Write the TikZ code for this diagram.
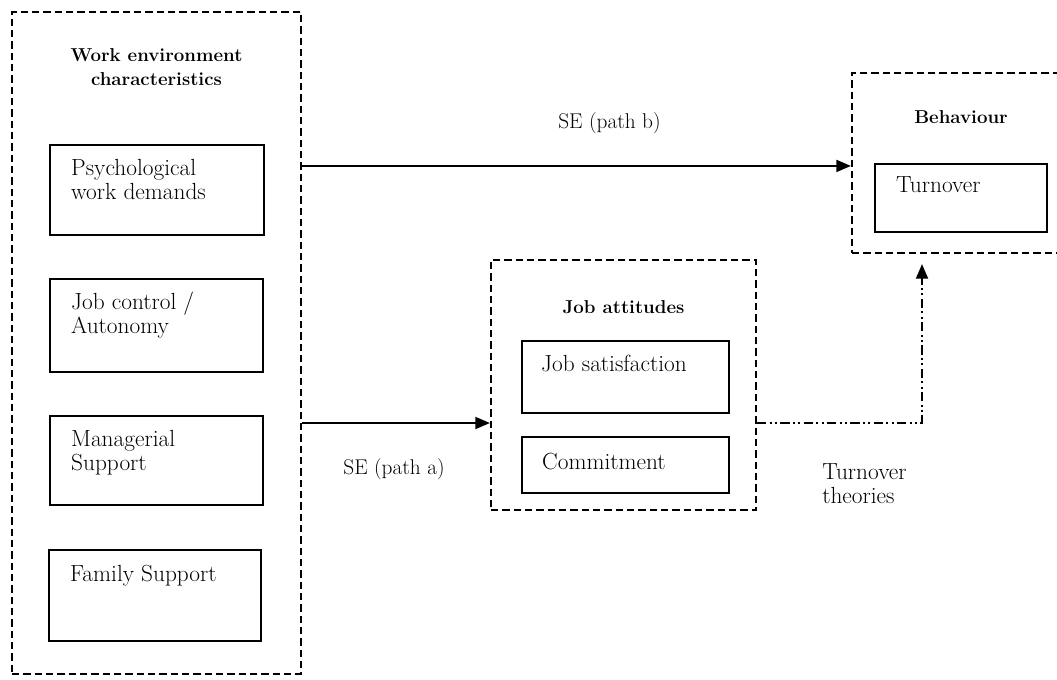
\documentclass[tikz,border=0pt]{standalone}
\usetikzlibrary{arrows.meta,calc}
\newdimen\pxu \pxu=0.75pt
\tikzset{
  groupbox/.style={draw, line width=1.6pt, dash pattern=on 5.5pt off 3pt,
    inner sep=0pt, minimum width=#1},
  itembox/.style={draw, line width=1.6pt, inner sep=0pt},
  itemtext/.style={anchor=north west, inner sep=0pt, align=left,
    font=\fontsize{17.5}{18}\selectfont},
  grouptitle/.style={anchor=north, inner sep=0pt, align=center,
    font=\fontsize{14}{18}\selectfont\bfseries},
  pathlabel/.style={inner sep=0pt, font=\fontsize{16}{18}\selectfont},
  arr/.style={line width=1.5pt, -{Triangle[length=11pt,width=9pt]}},
  dashdotdot/.style={line width=1.5pt,
    dash pattern=on 7pt off 2.5pt on 1.5pt off 2.5pt on 1.5pt off 2.5pt,
    -{Triangle[length=11pt,width=9pt]}, shorten >=7.5pt}
}
\begin{document}
\begin{tikzpicture}[x=0.75pt, y=-0.75pt]
\useasboundingbox (0,0) rectangle (1057,679);
\clip (0,0) rectangle (1057,679);

% work environment characteristics
\node[groupbox=289\pxu, minimum height=662\pxu] (wec) at (156.5,343) {};
\node[grouptitle] (wect) at (156.5,48) {Work environment\\characteristics};
\node[itembox, minimum width=214\pxu, minimum height=90\pxu] (psy) at (157,190) {};
\node[itembox, minimum width=213\pxu, minimum height=93\pxu] (jc) at (156.5,325.5) {};
\node[itembox, minimum width=213\pxu, minimum height=89\pxu] (man) at (156.5,460.5) {};
\node[itembox, minimum width=212\pxu, minimum height=91\pxu] (fam) at (155,595.5) {};
\node[itemtext] (psyt) at ([xshift=22\pxu, yshift=-15\pxu]psy.north west) {Psychological\\work demands};
\node[itemtext] (jct) at ([xshift=22\pxu, yshift=-14\pxu]jc.north west) {Job control /\\Autonomy};
\node[itemtext] (mant) at ([xshift=22\pxu, yshift=-15\pxu]man.north west) {Managerial\\Support};
\node[itemtext] (famt) at ([xshift=22\pxu, yshift=-16\pxu]fam.north west) {Family Support};

% job attitudes
\node[groupbox=265\pxu, minimum height=250\pxu] (att) at (623.5,385) {};
\node[grouptitle] (attt) at (623.5,300) {Job attitudes};
\node[itembox, minimum width=207\pxu, minimum height=72\pxu] (jsat) at (625.5,377) {};
\node[itembox, minimum width=207\pxu, minimum height=56\pxu] (com) at (625.5,465) {};
\node[itemtext] (jsatt) at ([xshift=20\pxu, yshift=-15\pxu]jsat.north west) {Job satisfaction};
\node[itemtext] (comt) at ([xshift=21\pxu, yshift=-17\pxu]com.north west) {Commitment};

% behaviour
\node[groupbox=218\pxu, minimum height=180\pxu] (beh) at (961,163) {};
\node[grouptitle] (beht) at (961,110) {Behaviour};
\node[itembox, minimum width=172\pxu, minimum height=68\pxu] (turn) at (961,198) {};
\node[itemtext] (turnt) at ([xshift=22\pxu, yshift=-13\pxu]turn.north west) {Turnover};

% connectors
\coordinate (gap) at ($(jsat.south)!0.5!(com.north)$);
\coordinate (bend) at (922,423);
\draw[arr] ([yshift=-3\pxu]wec.east |- turn.north) -- ([yshift=-3\pxu]beh.west |- turn.north);
\draw[arr] (wec.east |- bend) -- (att.west |- bend);
\draw[dashdotdot] (att.east |- bend) -- (bend) -- (bend |- beh.south);

% connector labels
\node[pathlabel, anchor=base] (lb) at (609.5,128) {SE (path b)};
\node[pathlabel, anchor=base] (la) at (394,474) {SE (path a)};
\node[itemtext] (lt) at (822,463) {Turnover\\theories};
\end{tikzpicture}
\end{document}
